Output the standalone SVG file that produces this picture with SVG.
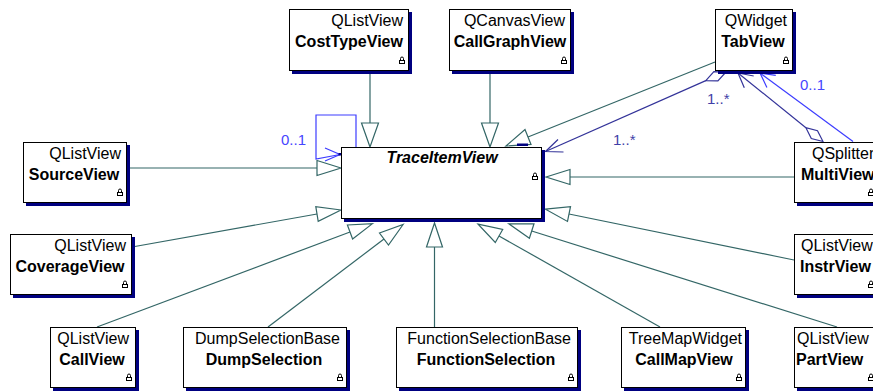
<svg xmlns="http://www.w3.org/2000/svg" width="873" height="391" viewBox="0 0 873 391">
  <defs>
    <style>
      .shadow { fill: #000080; }
      .box { fill: #ffffff; stroke: #000000; stroke-width: 1; }
      .st { font-family: "Liberation Sans", Arial, sans-serif; font-size: 16px; fill: #000000; }
      .nm { font-family: "Liberation Sans", Arial, sans-serif; font-size: 16px; font-weight: bold; fill: #000000; }
      .mid { text-anchor: middle; }
      .end { text-anchor: end; }
      .gen { fill: none; stroke: #336666; stroke-width: 1.2; }
      .tri { fill: #ffffff; stroke: #336666; stroke-width: 1.2; stroke-linejoin: miter; }
      .agg { fill: none; stroke: #333399; stroke-width: 1.2; }
      .dia { fill: #ffffff; stroke: #333399; stroke-width: 1.2; }
      .asc { fill: none; stroke: #3c3cff; stroke-width: 1.2; }
      .lbl { font-family: "Liberation Sans", Arial, sans-serif; font-size: 15px; }
      .many { fill: #3f3fa8; }
      .opt { fill: #4646ff; }
      .lk { fill: none; stroke: #000000; stroke-width: 1; }
    </style>
    <!-- small padlock shown in the bottom-right corner of each class -->
    <g id="lock">
      <path class="lk" d="M1.5,4 V2.5 A1.5,1.5 0 0 1 4.5,2.5 V4"/>
      <rect class="lk" x="0.5" y="4.5" width="5" height="3"/>
    </g>
  </defs>

  <!-- connectors -->
  <g id="connectors">
    <!-- generalizations to TraceItemView -->
    <path class="gen" d="M370,71 V123"/>
    <polygon class="tri" points="370,147 361.5,123 378.5,123"/>
    <path class="gen" d="M490,71 V123"/>
    <polygon class="tri" points="490,147 481.5,123 498.5,123"/>
    <path class="gen" d="M715,62 L528,137"/>
    <polygon class="tri" points="506,146 525,129.6 531,144.4"/>
    <rect x="517" y="143.5" width="11" height="2.5" fill="#000080"/>
    <path class="gen" d="M127,168 H317"/>
    <polygon class="tri" points="341,168 317,160.5 317,175.5"/>
    <path class="gen" d="M132,247 L317,214"/>
    <polygon class="tri" points="341,210 318.2,221.4 315.8,206.6"/>
    <path class="gen" d="M97,327 L350,232"/>
    <polygon class="tri" points="372.5,223.6 352.6,239 347.4,225"/>
    <path class="gen" d="M268,327 L384,239"/>
    <polygon class="tri" points="403.1,224.5 388.5,245 379.5,233"/>
    <path class="gen" d="M434.5,327 V247"/>
    <polygon class="tri" points="434.5,223 426.5,247 442.5,247"/>
    <path class="gen" d="M660,327 L499,236"/>
    <polygon class="tri" points="478.1,224.2 502.7,229.5 495.3,242.5"/>
    <path class="gen" d="M837,327 L531.7,231"/>
    <polygon class="tri" points="508.8,223.8 534,223.8 529.4,238.2"/>
    <path class="gen" d="M794,260 L569,214"/>
    <polygon class="tri" points="545.5,209.2 570.5,206.7 567.5,221.4"/>
    <path class="gen" d="M794,177 H570"/>
    <polygon class="tri" points="546,177 570,169.5 570,184.5"/>

    <!-- TabView aggregates TraceItemView -->
    <polygon class="dia" points="726,72 713.9,71.7 705.8,80.6 717.9,80.9"/>
    <path class="agg" d="M705.8,80.6 L545.5,151.5"/>
    <path class="agg" d="M563.5,152 L545.5,151.5 L558,139.5"/>

    <!-- MultiView aggregates TabView -->
    <polygon class="dia" points="823,141.5 811.3,138.5 805.9,127.7 817.5,130.7"/>
    <path class="agg" d="M805.9,127.7 L738,73"/>
    <path class="agg" d="M744.3,87.7 L738,73 L753.7,76"/>

    <!-- MultiView association to TabView -->
    <path class="asc" d="M853,141.5 L760,73"/>
    <path class="asc" d="M766.9,87.4 L760,73 L775.8,75.3"/>

    <!-- self association on TraceItemView -->
    <path class="asc" d="M356,147 V115 H316 V159 L340,154.5"/>
    <path class="asc" d="M325,148 L340,154.5 L325,161"/>
    <rect x="338.5" y="153" width="2.5" height="2.5" fill="#000080"/>

    <!-- multiplicities -->
    <text class="lbl opt" x="281" y="145">0..1</text>
    <text class="lbl many" x="707" y="104">1..*</text>
    <text class="lbl many" x="613" y="145">1..*</text>
    <text class="lbl opt" x="800" y="90">0..1</text>
  </g>

  <!-- classes -->
  <g id="TraceItemView">
    <rect class="shadow" x="344" y="150" width="201" height="72"/>
    <rect class="box" x="341.5" y="147.5" width="200" height="71"/>
    <text class="nm mid" x="442" y="163" font-style="italic">TraceItemView</text>
    <use href="#lock" x="532" y="172"/>
  </g>

  <g id="CostTypeView">
    <rect class="shadow" x="292" y="12" width="120" height="62"/>
    <rect class="box" x="289.5" y="9.5" width="119" height="61"/>
    <text class="st end" x="403" y="26">QListView</text>
    <text class="nm mid" x="349" y="47">CostTypeView</text>
    <use href="#lock" x="399" y="56"/>
  </g>

  <g id="CallGraphView">
    <rect class="shadow" x="452" y="12" width="122" height="62"/>
    <rect class="box" x="449.5" y="9.5" width="121" height="61"/>
    <text class="st end" x="565" y="26">QCanvasView</text>
    <text class="nm mid" x="510" y="47">CallGraphView</text>
    <use href="#lock" x="561" y="56"/>
  </g>

  <g id="TabView">
    <rect class="shadow" x="718" y="12" width="78" height="62"/>
    <rect class="box" x="715.5" y="9.5" width="77" height="61"/>
    <text class="st end" x="787" y="26">QWidget</text>
    <text class="nm mid" x="753" y="47">TabView</text>
    <use href="#lock" x="783" y="56"/>
  </g>

  <g id="SourceView">
    <rect class="shadow" x="26" y="145" width="104" height="61"/>
    <rect class="box" x="23.5" y="142.5" width="103" height="60"/>
    <text class="st end" x="121" y="159">QListView</text>
    <text class="nm mid" x="74" y="180">SourceView</text>
    <use href="#lock" x="117" y="188"/>
  </g>

  <g id="CoverageView">
    <rect class="shadow" x="13" y="237" width="122" height="61"/>
    <rect class="box" x="10.5" y="234.5" width="121" height="60"/>
    <text class="st end" x="126" y="251">QListView</text>
    <text class="nm mid" x="70" y="272">CoverageView</text>
    <use href="#lock" x="122" y="280"/>
  </g>

  <g id="CallView">
    <rect class="shadow" x="53" y="330" width="86" height="61"/>
    <rect class="box" x="50.5" y="327.5" width="85" height="60"/>
    <text class="st end" x="129" y="344">QListView</text>
    <text class="nm mid" x="92" y="365">CallView</text>
    <use href="#lock" x="126" y="373"/>
  </g>

  <g id="DumpSelection">
    <rect class="shadow" x="186" y="330" width="164" height="61"/>
    <rect class="box" x="183.5" y="327.5" width="163" height="60"/>
    <text class="st end" x="340" y="344">DumpSelectionBase</text>
    <text class="nm mid" x="264" y="365">DumpSelection</text>
    <use href="#lock" x="337" y="373"/>
  </g>

  <g id="FunctionSelection">
    <rect class="shadow" x="399" y="330" width="182" height="61"/>
    <rect class="box" x="396.5" y="327.5" width="181" height="60"/>
    <text class="st end" x="571" y="344">FunctionSelectionBase</text>
    <text class="nm mid" x="486" y="365">FunctionSelection</text>
    <use href="#lock" x="568" y="373"/>
  </g>

  <g id="CallMapView">
    <rect class="shadow" x="624" y="330" width="125" height="61"/>
    <rect class="box" x="621.5" y="327.5" width="124" height="60"/>
    <text class="st end" x="742" y="344">TreeMapWidget</text>
    <text class="nm mid" x="684" y="365">CallMapView</text>
    <use href="#lock" x="736" y="373"/>
  </g>

  <g id="PartView">
    <rect class="shadow" x="797" y="330" width="84" height="61"/>
    <rect class="box" x="794.5" y="327.5" width="83" height="60"/>
    <text class="st" x="797" y="344">QListView</text>
    <text class="nm" x="796" y="365">PartView</text>
    <use href="#lock" x="868" y="373"/>
  </g>

  <g id="InstrView">
    <rect class="shadow" x="797" y="237" width="84" height="61"/>
    <rect class="box" x="794.5" y="234.5" width="83" height="60"/>
    <text class="st" x="801" y="251">QListView</text>
    <text class="nm" x="800" y="272">InstrView</text>
    <use href="#lock" x="868" y="280"/>
  </g>

  <g id="MultiView">
    <rect class="shadow" x="797" y="145" width="88" height="61"/>
    <rect class="box" x="794.5" y="142.5" width="87" height="60"/>
    <text class="st" x="812" y="159">QSplitter</text>
    <text class="nm" x="801" y="180">MultiView</text>
    <use href="#lock" x="868" y="188"/>
  </g>
</svg>
